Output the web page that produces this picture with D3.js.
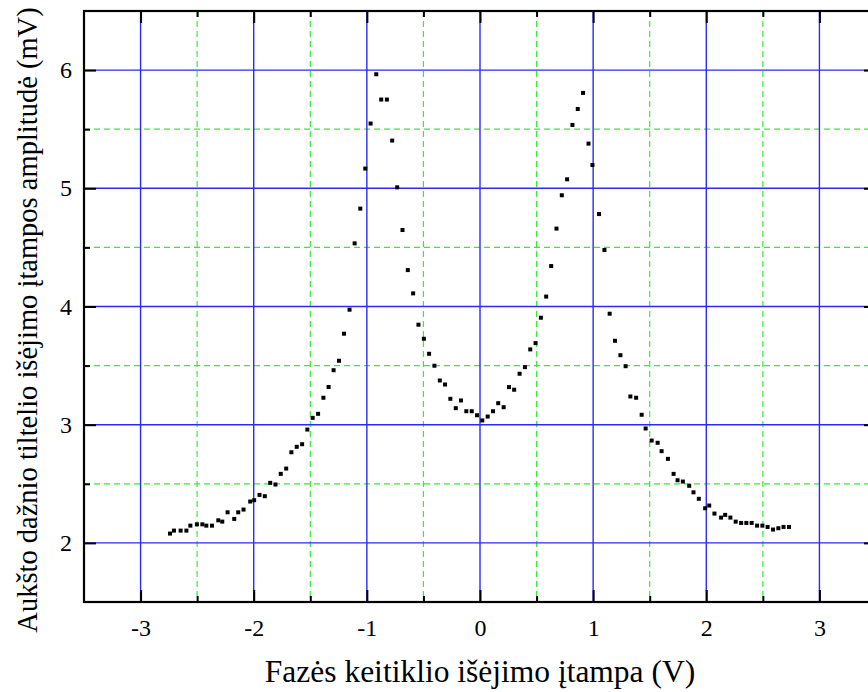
<!DOCTYPE html>
<html>
<head>
<meta charset="utf-8">
<script src="https://cdn.jsdelivr.net/npm/d3@7"></script>
<style>
  body { margin: 0; background: #fff; }
  svg { display: block; }
  svg text { font-family: "Liberation Serif", Tinos, "Times New Roman", Times, "DejaVu Serif", serif; }
</style>
</head>
<body>
<div id="chart"></div>
<script>
// Data (phase shifter output voltage vs bridge output amplitude)
const voltage = [
  -2.740, -2.705, -2.646, -2.595, -2.560, -2.502, -2.454, -2.419, -2.369, -2.313,
  -2.278, -2.231, -2.172, -2.137, -2.090, -2.031, -1.996, -1.949, -1.902, -1.854,
  -1.808, -1.761, -1.713, -1.667, -1.620, -1.572, -1.526, -1.479, -1.431, -1.384,
  -1.338, -1.294, -1.246, -1.202, -1.153, -1.108, -1.058, -1.014, -0.967, -0.917,
  -0.873, -0.823, -0.776, -0.732, -0.685, -0.638, -0.591, -0.544, -0.496, -0.450,
  -0.403, -0.355, -0.309, -0.262, -0.214, -0.168, -0.121, -0.073, -0.026, 0.020,
  0.068, 0.115, 0.161, 0.209, 0.256, 0.302, 0.350, 0.397, 0.444, 0.491,
  0.538, 0.585, 0.629, 0.676, 0.723, 0.770, 0.817, 0.864, 0.911, 0.959,
  0.994, 1.052, 1.100, 1.146, 1.193, 1.241, 1.287, 1.329, 1.380, 1.429,
  1.464, 1.517, 1.570, 1.605, 1.661, 1.711, 1.746, 1.793, 1.849, 1.887,
  1.934, 1.990, 2.026, 2.072, 2.131, 2.167, 2.213, 2.260, 2.308, 2.354,
  2.401, 2.449, 2.496, 2.542, 2.590, 2.637, 2.683, 2.731
];
const amplitude = [
  2.079, 2.104, 2.104, 2.104, 2.146, 2.157, 2.157, 2.146, 2.146, 2.191,
  2.180, 2.259, 2.203, 2.259, 2.282, 2.350, 2.361, 2.406, 2.395, 2.508,
  2.494, 2.584, 2.629, 2.767, 2.813, 2.835, 2.959, 3.058, 3.092, 3.228,
  3.319, 3.461, 3.541, 3.770, 3.973, 4.534, 4.828, 5.167, 5.548, 5.965,
  5.751, 5.751, 5.404, 5.008, 4.647, 4.308, 4.111, 3.846, 3.727, 3.600,
  3.499, 3.374, 3.340, 3.219, 3.140, 3.205, 3.114, 3.114, 3.080, 3.036,
  3.069, 3.114, 3.182, 3.148, 3.318, 3.296, 3.431, 3.487, 3.637, 3.690,
  3.905, 4.084, 4.342, 4.659, 4.941, 5.076, 5.536, 5.671, 5.807, 5.378,
  5.197, 4.782, 4.478, 3.939, 3.710, 3.588, 3.495, 3.239, 3.228, 3.084,
  2.968, 2.866, 2.847, 2.776, 2.711, 2.584, 2.530, 2.519, 2.483, 2.428,
  2.373, 2.293, 2.316, 2.248, 2.214, 2.237, 2.214, 2.180, 2.169, 2.169,
  2.169, 2.146, 2.146, 2.135, 2.113, 2.124, 2.135, 2.135
];
const xMajor = [-3, -2, -1, 0, 1, 2, 3];
const xMinor = [-2.5, -1.5, -0.5, 0.5, 1.5, 2.5];
const yMajor = [2, 3, 4, 5, 6];
const yMinor = [2.5, 3.5, 4.5, 5.5];
const xTitle = "Fazės keitiklio išėjimo įtampa (V)";
const yTitle = "Aukšto dažnio tiltelio išėjimo įtampos amplitudė (mV)";

const width = 868;
const height = 692;
const plotLeft = 84, plotRight = 876, plotTop = 11, plotBottom = 602;
const serif = "'Liberation Serif', Tinos, 'Times New Roman', Times, 'DejaVu Serif', serif";

const svg = d3.select("#chart").append("svg")
    .attr("width", width)
    .attr("height", height);

const x = d3.scaleLinear().domain([-3.5, 3.5]).range([plotLeft, plotRight]);
const y = d3.scaleLinear().domain([1.5, 6.5]).range([plotBottom, plotTop]);

// Grid: green dashed minor, blue solid major
const grid = svg.append("g");
grid.selectAll(".vmin").data(xMinor).enter().append("line")
    .attr("x1", d => x(d)).attr("x2", d => x(d))
    .attr("y1", plotTop).attr("y2", plotBottom)
    .attr("stroke", "#33ee33").attr("stroke-width", 1.2)
    .attr("stroke-dasharray", "6,4");
grid.selectAll(".hmin").data(yMinor).enter().append("line")
    .attr("x1", plotLeft).attr("x2", plotRight)
    .attr("y1", d => y(d)).attr("y2", d => y(d))
    .attr("stroke", "#33ee33").attr("stroke-width", 1.2)
    .attr("stroke-dasharray", "6,4");
grid.selectAll(".vmaj").data(xMajor).enter().append("line")
    .attr("x1", d => x(d)).attr("x2", d => x(d))
    .attr("y1", plotTop).attr("y2", plotBottom)
    .attr("stroke", "#2a2aff").attr("stroke-width", 1.4);
grid.selectAll(".hmaj").data(yMajor).enter().append("line")
    .attr("x1", plotLeft).attr("x2", plotRight)
    .attr("y1", d => y(d)).attr("y2", d => y(d))
    .attr("stroke", "#2a2aff").attr("stroke-width", 1.4);

// Axes with inward ticks
function styleAxis(g) {
    g.attr("font-family", serif);
    g.select(".domain").remove();
    g.selectAll(".tick line").attr("stroke", "#000").attr("stroke-width", 2);
    g.selectAll("text")
        .attr("fill", "#000")
        .attr("font-family", serif)
        .style("font-size", "24px");
}
const plain = d => String(d);

svg.append("g").attr("transform", `translate(0,${plotBottom})`)
    .call(d3.axisBottom(x).tickValues(xMajor).tickSize(-12).tickPadding(17).tickFormat(plain))
    .call(styleAxis);
svg.append("g").attr("transform", `translate(0,${plotBottom})`)
    .call(d3.axisBottom(x).tickValues(xMinor).tickSize(-6).tickFormat(""))
    .call(styleAxis);
svg.append("g").attr("transform", `translate(0,${plotTop})`)
    .call(d3.axisTop(x).tickValues(xMajor).tickSize(-12).tickFormat(""))
    .call(styleAxis);
svg.append("g").attr("transform", `translate(0,${plotTop})`)
    .call(d3.axisTop(x).tickValues(xMinor).tickSize(-6).tickFormat(""))
    .call(styleAxis);

svg.append("g").attr("transform", `translate(${plotLeft},0)`)
    .call(d3.axisLeft(y).tickValues(yMajor).tickSize(-12).tickPadding(12).tickFormat(plain))
    .call(styleAxis);
svg.append("g").attr("transform", `translate(${plotLeft},0)`)
    .call(d3.axisLeft(y).tickValues(yMinor).tickSize(-6).tickFormat(""))
    .call(styleAxis);
svg.append("g").attr("transform", `translate(${plotRight},0)`)
    .call(d3.axisRight(y).tickValues(yMajor).tickSize(-12).tickFormat(""))
    .call(styleAxis);
svg.append("g").attr("transform", `translate(${plotRight},0)`)
    .call(d3.axisRight(y).tickValues(yMinor).tickSize(-6).tickFormat(""))
    .call(styleAxis);

// Frame
svg.append("rect")
    .attr("x", plotLeft).attr("y", plotTop)
    .attr("width", plotRight - plotLeft).attr("height", plotBottom - plotTop)
    .attr("fill", "none").attr("stroke", "#000").attr("stroke-width", 2.2);

// Data points
const points = voltage.map((v, i) => ({ v: v, a: amplitude[i] }));
svg.append("g").selectAll("rect")
    .data(points)
    .enter().append("rect")
    .attr("x", d => x(d.v) - 2)
    .attr("y", d => y(d.a) - 2)
    .attr("width", 4).attr("height", 4)
    .attr("fill", "#000");

// Axis titles
svg.append("text")
    .attr("x", x(0))
    .attr("y", 682)
    .attr("text-anchor", "middle")
    .attr("font-family", serif)
    .style("font-size", "31.5px")
    .text(xTitle);

svg.append("text")
    .attr("transform", "translate(37,320) rotate(-90)")
    .attr("text-anchor", "middle")
    .attr("font-family", serif)
    .style("font-size", "28.5px")
    .text(yTitle);
</script>
</body>
</html>
